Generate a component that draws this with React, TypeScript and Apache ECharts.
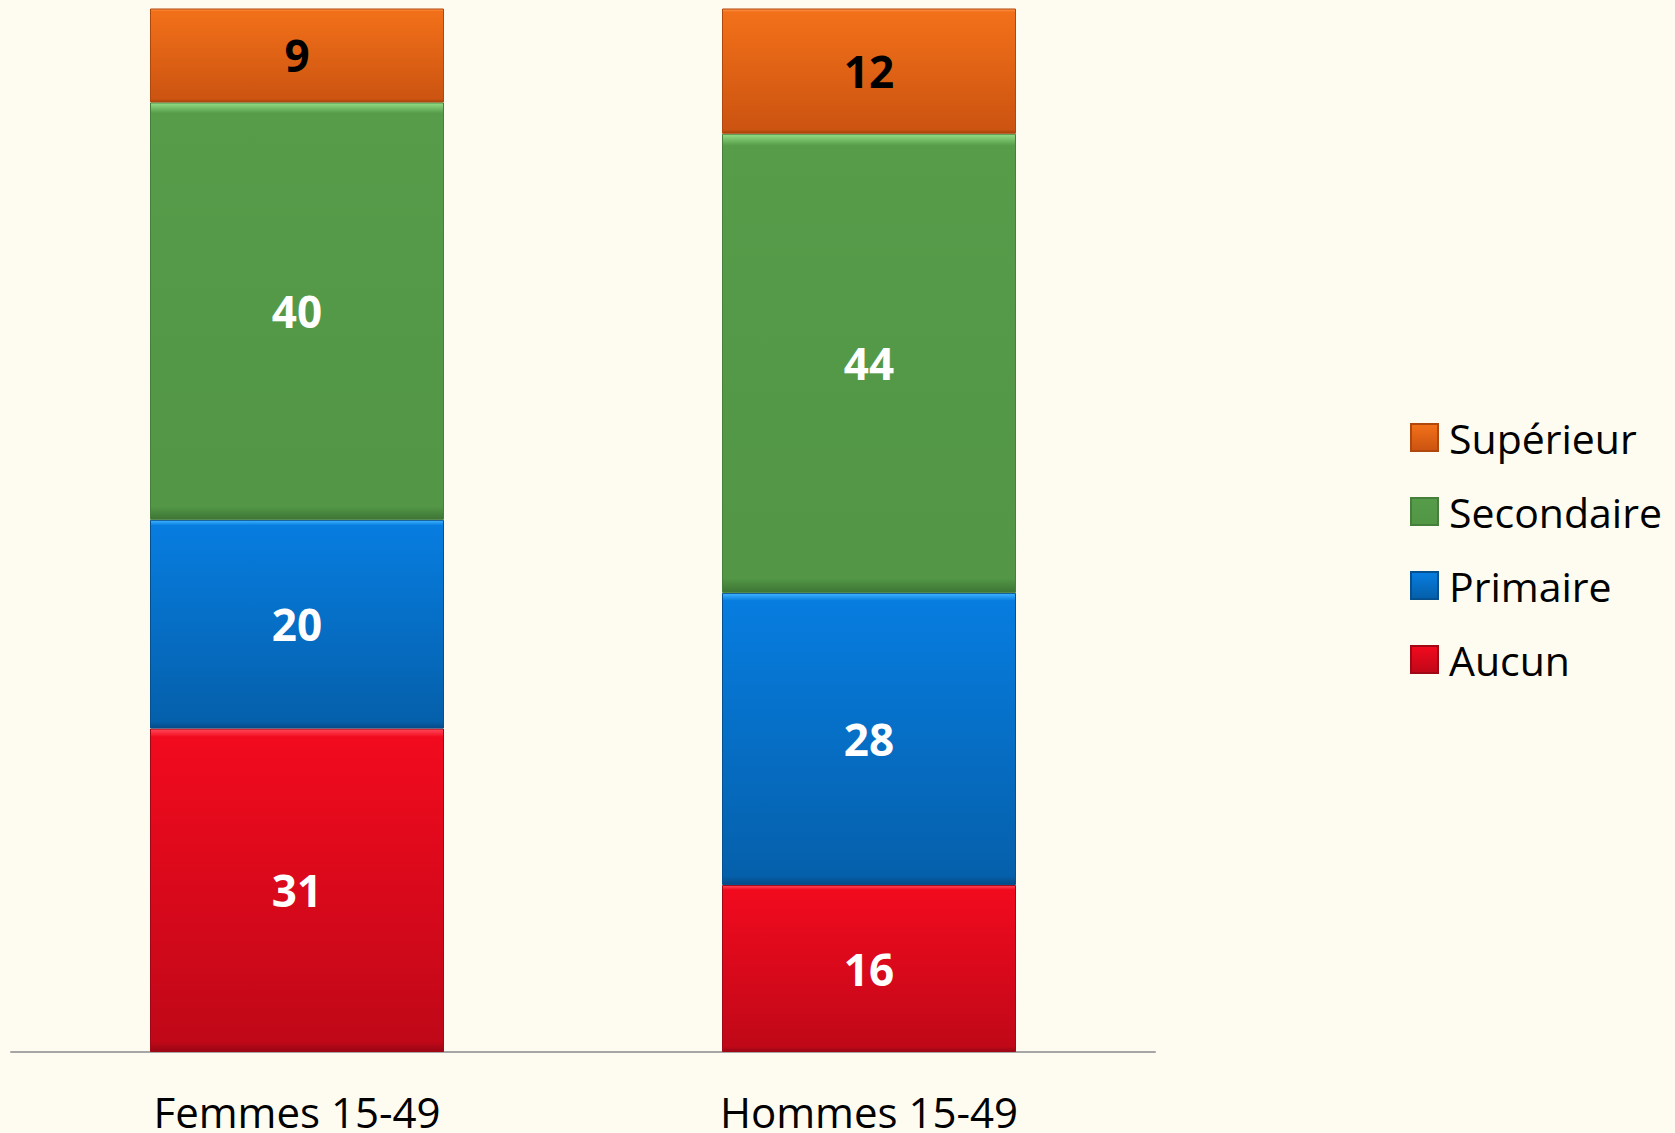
import React, { useEffect, useRef } from "react";
import * as echarts from "echarts";

const categories = ["Femmes 15-49", "Hommes 15-49"];
const aucun = [31, 16];
const primaire = [20, 28];
const secondaire = [40, 44];
const superieur = [9, 12];
const legendOrder = ["Supérieur", "Secondaire", "Primaire", "Aucun"];

const FONT = "'Open Sans', 'Noto Sans', sans-serif";

function grad(hi: string, top: string, bottom: string, low: string) {
  return new echarts.graphic.LinearGradient(0, 0, 0, 1, [
    { offset: 0, color: hi },
    { offset: 0.025, color: top },
    { offset: 0.97, color: bottom },
    { offset: 1, color: low },
  ]);
}

export default function App() {
  const ref = useRef<HTMLDivElement>(null);
  useEffect(() => {
    if (!ref.current) return;
    const chart = echarts.init(ref.current, null, { renderer: "svg" });
    const label = (color: string) => ({
      show: true,
      position: "inside",
      color,
      fontFamily: FONT,
      fontWeight: "bold",
      fontSize: 44,
    });
    const mk = (name: string, data: number[], color: any, border: string, lblColor: string) => ({
      name,
      type: "bar",
      stack: "total",
      data,
      barWidth: 294,
      itemStyle: { color, borderColor: border, borderWidth: 1 },
      label: label(lblColor),
    });
    chart.setOption({
      animation: false,
      backgroundColor: "#fefcf0",
      grid: { left: 11, right: 520, top: 8.5, bottom: 81 },
      legend: {
        orient: "vertical",
        left: 1405,
        top: 412,
        itemWidth: 27,
        itemHeight: 27,
        itemGap: 33,
        icon: "rect",
        data: legendOrder,
        textStyle: { fontFamily: FONT, fontSize: 41, lineHeight: 41, color: "#000", padding: [0, 0, 0, 6] },
      },
      xAxis: {
        type: "category",
        data: categories,
        axisLine: { lineStyle: { color: "#a6a6a6", width: 2 } },
        axisTick: { show: false },
        axisLabel: { fontFamily: FONT, fontSize: 42, lineHeight: 42, color: "#000", margin: 38 },
      },
      yAxis: { type: "value", min: 0, max: 100, show: false, splitLine: { show: false } },
      series: [
        mk("Aucun", aucun, grad("#ff4a5a", "#f20a1e", "#c00818", "#9a0614"), "#a00815", "#fff"),
        mk("Primaire", primaire, grad("#40b4ff", "#077de0", "#0560ab", "#054a85"), "#05508f", "#fff"),
        mk("Secondaire", secondaire, grad("#95dd85", "#569c49", "#529646", "#3e7535"), "#467f3b", "#fff"),
        mk("Supérieur", superieur, grad("#ff9a50", "#f27019", "#cc5411", "#a9420c"), "#b0470d", "#000"),
      ],
    });
    return () => chart.dispose();
  }, []);
  return (
    <div
      ref={ref}
      style={{ position: "absolute", left: 0, top: 0, width: 1675, height: 1133, background: "#fefcf0" }}
    />
  );
}
